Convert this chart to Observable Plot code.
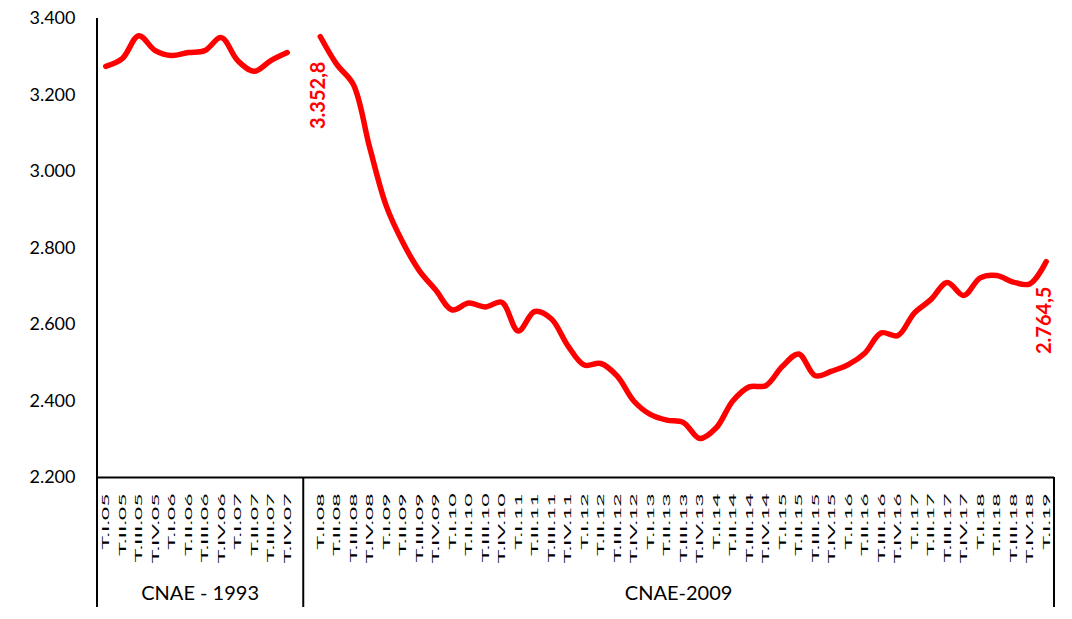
<!DOCTYPE html>
<html>
<head>
<meta charset="utf-8">
<script src="https://cdn.jsdelivr.net/npm/d3@7"></script>
<script src="https://cdn.jsdelivr.net/npm/@observablehq/plot@0.6"></script>
<style>
  html, body { margin: 0; padding: 0; background: #fff; overflow: hidden; }
  #chart svg { font-family: Lato, "Open Sans", sans-serif; color: #000; }
</style>
</head>
<body>
<div id="chart"></div>
<script>
// ---- data ----
const categories1993 = ["T.I.05","T.II.05","T.III.05","T.IV.05","T.I.06","T.II.06","T.III.06","T.IV.06","T.I.07","T.II.07","T.III.07","T.IV.07"];
const values1993 = [3275, 3295, 3355, 3316, 3303, 3311, 3316, 3350, 3290, 3262, 3290, 3311];

const categories2009 = [
  "T.I.08","T.II.08","T.III.08","T.IV.08",
  "T.I.09","T.II.09","T.III.09","T.IV.09",
  "T.I.10","T.II.10","T.III.10","T.IV.10",
  "T.I.11","T.II.11","T.III.11","T.IV.11",
  "T.I.12","T.II.12","T.III.12","T.IV.12",
  "T.I.13","T.II.13","T.III.13","T.IV.13",
  "T.I.14","T.II.14","T.III.14","T.IV.14",
  "T.I.15","T.II.15","T.III.15","T.IV.15",
  "T.I.16","T.II.16","T.III.16","T.IV.16",
  "T.I.17","T.II.17","T.III.17","T.IV.17",
  "T.I.18","T.II.18","T.III.18","T.IV.18",
  "T.I.19"
];
const values2009 = [
  3352.8, 3280, 3228, 3062,
  2910, 2815, 2741, 2690,
  2638, 2656, 2646, 2658,
  2583, 2634, 2615, 2545,
  2494, 2498, 2465, 2400,
  2365, 2350, 2344, 2302,
  2330, 2400, 2437, 2440,
  2490, 2523, 2466, 2478,
  2495, 2525, 2578, 2571,
  2630, 2665, 2710, 2676,
  2722, 2728, 2711, 2706,
  2764.5
];
const gapCategory = " ";
const groupNames = ["CNAE - 1993", "CNAE-2009"];
const yTicks = [2200, 2400, 2600, 2800, 3000, 3200, 3400];

// ---- build table ----
const rows = [
  ...categories1993.map((c, i) => ({cat: c, value: values1993[i], group: groupNames[0]})),
  ...categories2009.map((c, i) => ({cat: c, value: values2009[i], group: groupNames[1]}))
];
const labelRows = [rows[categories1993.length], rows[rows.length - 1]];
const domain = [...categories1993, gapCategory, ...categories2009];

const locale = d3.formatLocale({decimal: ",", thousands: ".", grouping: [3], currency: ["", "€"]});
const fmtInt = locale.format(",.0f");
const fmt1 = locale.format(",.1f");

const W = 1072, H = 619;
const plot = Plot.plot({
  width: W,
  height: H,
  marginLeft: 97,
  marginRight: 18,
  marginTop: 18,
  marginBottom: 142,
  style: {background: "#fff", fontFamily: "Lato, 'Open Sans', sans-serif"},
  x: {type: "point", domain, padding: 0.5, round: false, label: null},
  y: {domain: [2200, 3400], label: null},
  marks: [
    Plot.ruleY([2200], {stroke: "#000", strokeWidth: 2}),
    Plot.lineY(rows, {
      x: "cat", y: "value", z: "group",
      stroke: "#ff0000", strokeWidth: 5.5,
      curve: "catmull-rom", strokeLinecap: "round", strokeLinejoin: "round"
    }),
    Plot.text(labelRows, {
      x: "cat", y: "value", text: d => fmt1(d.value),
      rotate: -90, textAnchor: "end", lineAnchor: "middle",
      dy: 25, dx: -2,
      fill: "#ff0000", fontWeight: "bold", fontSize: 20
    }),
    Plot.axisY({ticks: yTicks, tickFormat: fmtInt, tickSize: 0, tickPadding: 22, fontSize: 18, label: null}),
    Plot.axisX({tickRotate: -90, tickSize: 0, tickPadding: 16, fontSize: 23, label: null})
  ]
});
document.getElementById("chart").appendChild(plot);

// ---- post-render: condensed tick labels & multi-level category frame ----
const svg = d3.select(plot);
svg.selectAll('[aria-label="x-axis tick label"] text').each(function() {
  const t = this.getAttribute("transform") || "";
  this.setAttribute("transform", t + " scale(1,0.45)");
});

const xs = plot.scale("x");
const ys = plot.scale("y");
const step = xs.apply(domain[1]) - xs.apply(domain[0]);
const leftEdge = xs.apply(domain[0]) - step / 2;
const rightEdge = xs.apply(domain[domain.length - 1]) + step / 2;
const divider = (xs.apply(categories1993[categories1993.length - 1]) + xs.apply(categories2009[0])) / 2;
const yBase = ys.apply(2200);
const yTop = ys.apply(3400);
const yBottom = H - 12;

const g = svg.append("g").attr("stroke", "#000").attr("stroke-width", 2);
g.append("line").attr("x1", leftEdge).attr("x2", leftEdge).attr("y1", yTop).attr("y2", yBottom);
g.append("line").attr("x1", divider).attr("x2", divider).attr("y1", yBase).attr("y2", yBottom);
g.append("line").attr("x1", rightEdge).attr("x2", rightEdge).attr("y1", yBase).attr("y2", yBottom);

const groupSpans = [[leftEdge, divider], [divider, rightEdge]];
svg.append("g")
  .attr("font-size", 20)
  .attr("fill", "#000")
  .attr("text-anchor", "middle")
  .selectAll("text")
  .data(groupNames)
  .join("text")
  .attr("x", (d, i) => (groupSpans[i][0] + groupSpans[i][1]) / 2)
  .attr("y", 600)
  .text(d => d);
</script>
</body>
</html>
